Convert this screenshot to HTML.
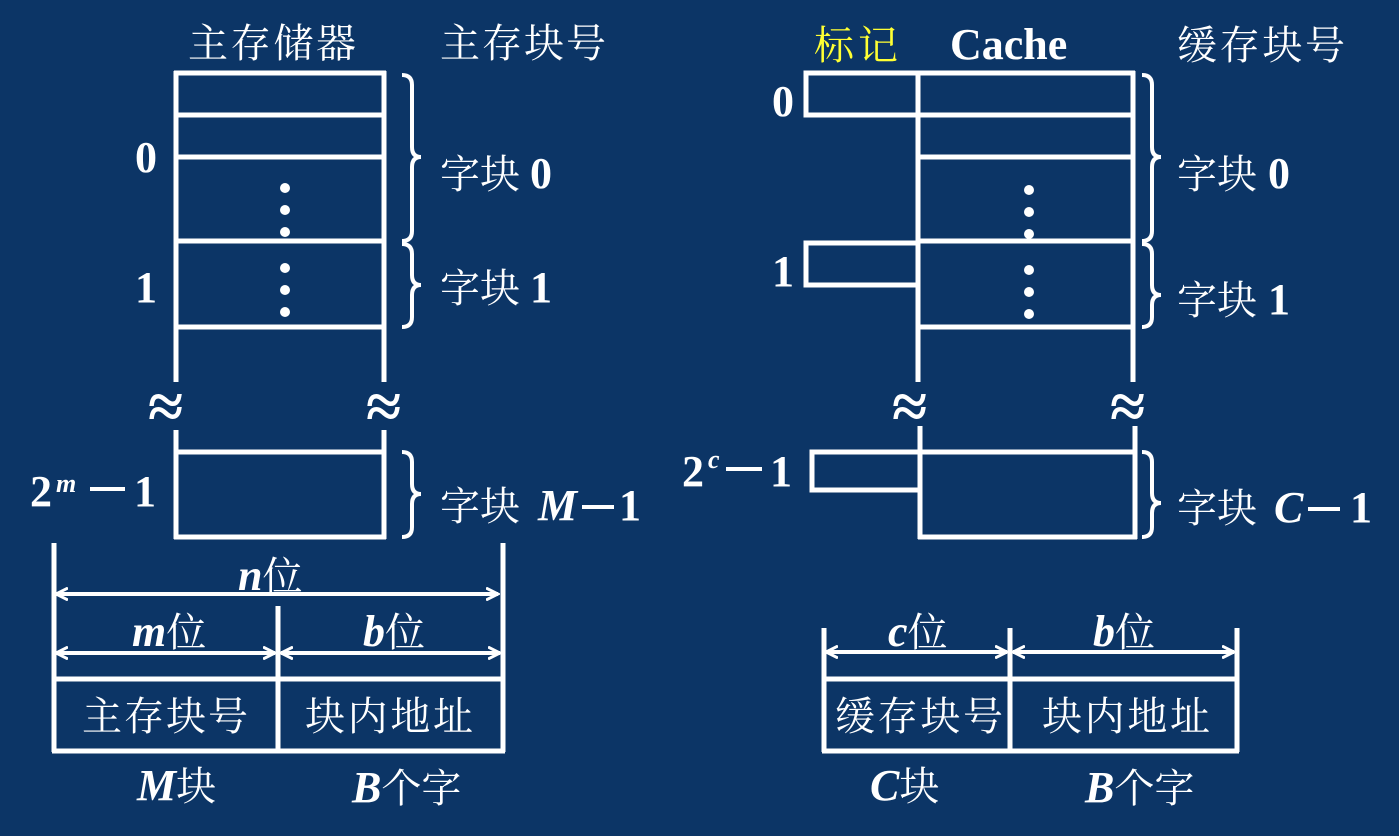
<!DOCTYPE html>
<html><head><meta charset="utf-8"><style>
html,body{margin:0;padding:0;background:#0c3566;}
svg{display:block}
text{fill:#fff;font-family:"Liberation Serif","Noto Serif CJK SC",serif;}
.b{font-weight:bold;font-size:44px}
.i{font-style:italic;font-weight:bold;font-size:44px}
</style></head><body>
<svg width="1399" height="836" viewBox="0 0 1399 836" xmlns="http://www.w3.org/2000/svg">
<rect width="1399" height="836" fill="#0c3566"/>
<defs>
<marker id="a" markerWidth="14" markerHeight="14" refX="12" refY="7" orient="auto-start-reverse" markerUnits="userSpaceOnUse">
<path d="M0,1 L12,7 L0,13" fill="none" stroke="#fff" stroke-width="3"/>
</marker>
</defs>
<g stroke="#fff" stroke-width="5" fill="none">
<line x1="176" y1="71" x2="176" y2="382"/>
<line x1="384" y1="71" x2="384" y2="382"/>
<line x1="174" y1="73" x2="386" y2="73"/>
<line x1="174" y1="115" x2="386" y2="115"/>
<line x1="174" y1="157" x2="386" y2="157"/>
<line x1="174" y1="241" x2="386" y2="241"/>
<line x1="174" y1="327" x2="386" y2="327"/>
<line x1="176" y1="430" x2="176" y2="539"/>
<line x1="384" y1="430" x2="384" y2="539"/>
<line x1="174" y1="452" x2="386" y2="452"/>
<line x1="174" y1="537" x2="386" y2="537"/>
<path d="M402,75 Q412,75 412,85 L412,147 Q412,157 421,157 Q412,157 412,167 L412,231 Q412,241 402,241" stroke-width="4"/>
<path d="M402,244 Q412,244 412,254 L412,275 Q412,285 421,285 Q412,285 412,295 L412,317 Q412,327 402,327" stroke-width="4"/>
<path d="M402,452 Q412,452 412,462 L412,484 Q412,494 421,494 Q412,494 412,504 L412,527 Q412,537 402,537" stroke-width="4"/>
<line x1="54" y1="543" x2="54" y2="752"/>
<line x1="503" y1="543" x2="503" y2="752"/>
<line x1="278" y1="606" x2="278" y2="752"/>
<line x1="56" y1="594" x2="498" y2="594" stroke-width="4" marker-start="url(#a)" marker-end="url(#a)"/>
<line x1="56" y1="653" x2="275" y2="653" stroke-width="4" marker-start="url(#a)" marker-end="url(#a)"/>
<line x1="281" y1="653" x2="500" y2="653" stroke-width="4" marker-start="url(#a)" marker-end="url(#a)"/>
<line x1="52" y1="679" x2="505" y2="679"/>
<line x1="52" y1="751" x2="505" y2="751"/>
<rect x="806" y="73" width="112" height="42"/>
<line x1="918" y1="71" x2="918" y2="382"/>
<line x1="1133" y1="71" x2="1133" y2="382"/>
<line x1="916" y1="73" x2="1135" y2="73"/>
<line x1="916" y1="115" x2="1135" y2="115"/>
<line x1="916" y1="157" x2="1135" y2="157"/>
<line x1="916" y1="241" x2="1135" y2="241"/>
<line x1="916" y1="327" x2="1135" y2="327"/>
<polyline points="918,243 806,243 806,285 918,285"/>
<line x1="920" y1="426" x2="920" y2="539"/>
<line x1="1135" y1="426" x2="1135" y2="539"/>
<line x1="918" y1="452" x2="1137" y2="452"/>
<line x1="918" y1="537" x2="1137" y2="537"/>
<polyline points="920,452 812,452 812,490 920,490"/>
<path d="M1142,75 Q1152,75 1152,85 L1152,147 Q1152,157 1161,157 Q1152,157 1152,167 L1152,231 Q1152,241 1142,241" stroke-width="4"/>
<path d="M1142,244 Q1152,244 1152,254 L1152,285 Q1152,295 1161,295 Q1152,295 1152,305 L1152,317 Q1152,327 1142,327" stroke-width="4"/>
<path d="M1142,452 Q1152,452 1152,462 L1152,493 Q1152,503 1161,503 Q1152,503 1152,513 L1152,527 Q1152,537 1142,537" stroke-width="4"/>
<line x1="824" y1="628" x2="824" y2="752"/>
<line x1="1237" y1="628" x2="1237" y2="752"/>
<line x1="1010" y1="628" x2="1010" y2="752"/>
<line x1="826" y1="652" x2="1007" y2="652" stroke-width="4" marker-start="url(#a)" marker-end="url(#a)"/>
<line x1="1013" y1="652" x2="1234" y2="652" stroke-width="4" marker-start="url(#a)" marker-end="url(#a)"/>
<line x1="822" y1="679" x2="1239" y2="679"/>
<line x1="822" y1="751" x2="1239" y2="751"/>
</g>
<g fill="#fff">
<circle cx="285" cy="188" r="5"/><circle cx="285" cy="210" r="5"/><circle cx="285" cy="232" r="5"/>
<circle cx="285" cy="268" r="5"/><circle cx="285" cy="290" r="5"/><circle cx="285" cy="312" r="5"/>
<circle cx="1029" cy="190" r="5"/><circle cx="1029" cy="212" r="5"/><circle cx="1029" cy="234" r="5"/>
<circle cx="1029" cy="270" r="5"/><circle cx="1029" cy="292" r="5"/><circle cx="1029" cy="314" r="5"/>
<rect x="90" y="487" width="35" height="4"/>
<rect x="582" y="505" width="32" height="4"/>
<rect x="726" y="467" width="36" height="4"/>
<rect x="1308" y="507" width="32" height="4"/>
</g>
<g font-size="40">
<text x="188" y="57" textLength="168">主存储器</text>
<text x="440" y="57" textLength="166">主存块号</text>
<text x="814" y="59" style="fill:#ffff33" textLength="84">标记</text>
<text x="950" y="59" class="b">Cache</text>
<text x="1177" y="59" textLength="168">缓存块号</text>
<text x="135" y="172" class="b">0</text>
<text x="135" y="302" class="b">1</text>
<text x="440" y="188">字块</text><text x="530" y="188" class="b">0</text>
<text x="440" y="302">字块</text><text x="530" y="302" class="b">1</text>
<text x="440" y="520">字块</text><text x="538" y="520" class="i">M</text><text x="619" y="520" class="b">1</text>
<text x="30" y="506" class="b">2</text><text x="56" y="492" style="font-size:26px" class="i">m</text><text x="134" y="506" class="b">1</text>
<text x="772" y="116" class="b">0</text>
<text x="772" y="286" class="b">1</text>
<text x="682" y="486" class="b">2</text><text x="708" y="468" style="font-size:26px" class="i">c</text><text x="770" y="486" class="b">1</text>
<text x="1177" y="188">字块</text><text x="1268" y="188" class="b">0</text>
<text x="1177" y="314">字块</text><text x="1268" y="314" class="b">1</text>
<text x="1177" y="522">字块</text><text x="1274" y="522" class="i">C</text><text x="1350" y="522" class="b">1</text>
<text x="238" y="590"><tspan class="i">n</tspan>位</text>
<text x="132" y="646"><tspan class="i">m</tspan>位</text>
<text x="363" y="646"><tspan class="i">b</tspan>位</text>
<text x="888" y="646"><tspan class="i">c</tspan>位</text>
<text x="1093" y="646"><tspan class="i">b</tspan>位</text>
<text x="82" y="730" textLength="166">主存块号</text>
<text x="305" y="730" textLength="168">块内地址</text>
<text x="835" y="730" textLength="168">缓存块号</text>
<text x="1042" y="730" textLength="168">块内地址</text>
<text x="137" y="800"><tspan class="i">M</tspan>块</text>
<text x="352" y="802"><tspan class="i">B</tspan>个字</text>
<text x="870" y="800"><tspan class="i">C</tspan>块</text>
<text x="1085" y="802"><tspan class="i">B</tspan>个字</text>
</g>
<g font-size="64" font-weight="bold">
<text x="148" y="428">≈</text>
<text x="366" y="428">≈</text>
<text x="892" y="428">≈</text>
<text x="1110" y="428">≈</text>
</g>
</svg>
</body></html>
